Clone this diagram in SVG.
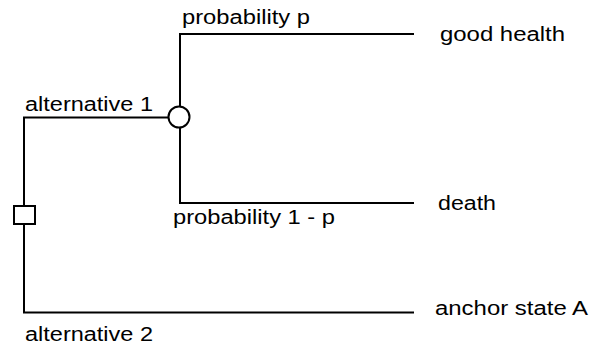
<svg xmlns="http://www.w3.org/2000/svg" width="606" height="349" viewBox="0 0 606 349">
<style>
.ln{stroke:#000;stroke-width:2;fill:none;stroke-linecap:square}
.nd{stroke:#000;stroke-width:2;fill:#fff}
text{font-family:"Liberation Sans",Arial,sans-serif;font-size:19.5px;fill:#000}
</style>
<rect width="606" height="349" fill="#fff"/>
<g id="connectors">
<polyline class="ln" points="168,117.5 24,117.5 24,206"/>
<polyline class="ln" points="24,224 24,312.5 413,312.5"/>
<polyline class="ln" points="180,106 180,34 413,34"/>
<polyline class="ln" points="180,128 180,203 413,203"/>
</g>
<g id="decision">
<rect class="nd" x="14" y="206" width="21" height="18"/>
</g>
<g id="chance">
<circle class="nd" cx="179" cy="117" r="10.5"/>
</g>
<g id="labels">
<text x="25" y="111" textLength="128" lengthAdjust="spacingAndGlyphs">alternative 1</text>
<text x="25" y="341" textLength="128" lengthAdjust="spacingAndGlyphs">alternative 2</text>
<text x="182" y="24" textLength="128" lengthAdjust="spacingAndGlyphs">probability p</text>
<text x="173" y="223.5" textLength="162" lengthAdjust="spacingAndGlyphs">probability 1 - p</text>
</g>
<g id="good-health"><text x="440" y="40.5" textLength="125" lengthAdjust="spacingAndGlyphs">good health</text></g>
<g id="death"><text x="438" y="210" textLength="58" lengthAdjust="spacingAndGlyphs">death</text></g>
<g id="anchor-state-a"><text x="435" y="315" textLength="153" lengthAdjust="spacingAndGlyphs">anchor state A</text></g>
</svg>
